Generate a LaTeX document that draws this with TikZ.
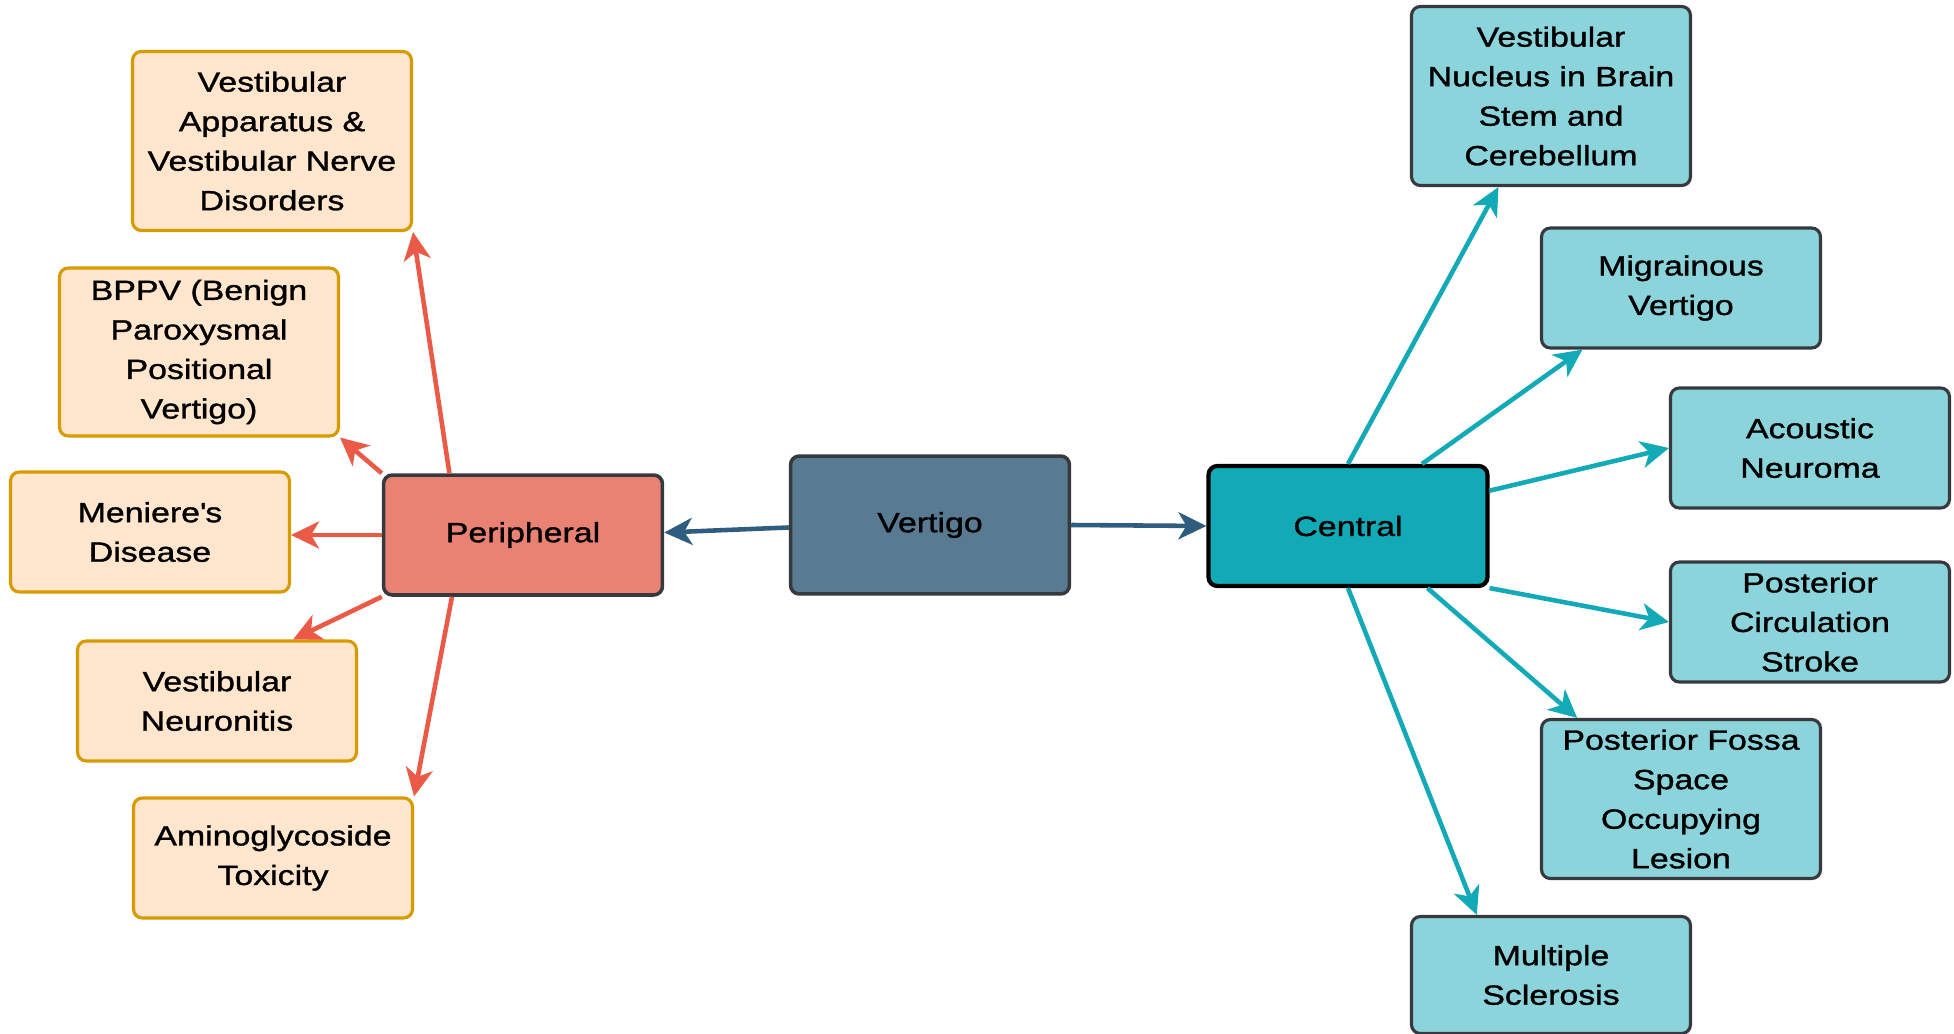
\documentclass[tikz,border=0pt]{standalone}
\usepackage{fontspec}
\setmainfont{Liberation Sans}[FakeStretch=1.22, FakeBold=1.2]
\usetikzlibrary{arrows.meta}

\definecolor{leafFill}{HTML}{FFE6CC}
\definecolor{leafLine}{HTML}{D79B00}
\definecolor{periFill}{HTML}{EA8274}
\definecolor{vertFill}{HTML}{587A92}
\definecolor{centFill}{HTML}{13AAB7}
\definecolor{cleafFill}{HTML}{8CD4DB}
\definecolor{darkLine}{HTML}{36393D}
\definecolor{redArr}{HTML}{EA5A47}
\definecolor{blueArr}{HTML}{2F5D7F}

\begin{document}
\begin{tikzpicture}[x=0.02cm, y=-0.02cm,
        box/.style={rectangle, rounded corners=5pt, align=center,
                    minimum width=5.58cm, minimum height=2.4cm, inner sep=2pt,
                    font=\fontsize{15.8}{22.5}\selectfont},
        lleaf/.style={box, draw=leafLine, line width=1.8pt, fill=leafFill},
        rleaf/.style={box, draw=darkLine, line width=1.8pt, fill=cleafFill},
        hub/.style={box, draw=darkLine, line width=2pt},
        arr/.style={-{Stealth[length=0.56cm,width=0.54cm,inset=0.16cm]}, line width=2.6pt},
        rarr/.style={arr, redArr},
        barr/.style={arr, blueArr},
        tarr/.style={arr, centFill}]
      \useasboundingbox (0,0) rectangle (1954,1034);
      % middle row
      \node[hub, fill=vertFill, minimum height=2.76cm] (vt) at (930,525) {Vertigo};
      \node[hub, fill=periFill] (pe) at (523,535) {Peripheral};
      \node[hub, fill=centFill, draw=black, line width=2.4pt] (ce) at (1348,526) {Central};
      % peripheral causes
      \node[lleaf, minimum height=3.58cm] (va) at (272,141) {Vestibular\\Apparatus \&\\Vestibular Nerve\\Disorders};
      \node[lleaf, minimum height=3.36cm] (bp) at (199,352) {BPPV (Benign\\Paroxysmal\\Positional\\Vertigo)};
      \node[lleaf] (me) at (150,532) {Meniere\textquotesingle s\\Disease};
      \node[lleaf] (ne) at (217,701) {Vestibular\\Neuronitis};
      \node[lleaf] (am) at (273,858) {Aminoglycoside\\Toxicity};
      % central causes
      \node[rleaf, minimum height=3.58cm] (vn) at (1551,96) {Vestibular\\Nucleus in Brain\\Stem and\\Cerebellum};
      \node[rleaf] (mi) at (1681,288) {Migrainous\\Vertigo};
      \node[rleaf] (ac) at (1810,448) {Acoustic\\Neuroma};
      \node[rleaf] (pc) at (1810,622) {Posterior\\Circulation\\Stroke};
      \node[rleaf, minimum height=3.18cm] (pf) at (1681,799) {Posterior Fossa\\Space\\Occupying\\Lesion};
      \node[rleaf, minimum height=2.34cm] (ms) at (1551,975) {Multiple\\Sclerosis};
      % connectors
      \draw[barr] (vt.181) -- (pe.1);
      \draw[barr] (vt.east) -- (ce.west);
      \draw[rarr] (pe.140) -- (va.south east);
      \draw[rarr] (pe.north west) -- (bp.south east);
      \draw[rarr] (pe.west) -- (pe.west -| me.east);
      \draw[rarr] (pe.south west) -- (ne.39);
      \draw[rarr] (pe.-139) -- (am.north east);
      \draw[tarr] (ce.north) -- (vn.-120);
      \draw[tarr] (ce.40) -- (mi.-148);
      \draw[tarr] (ce.14) -- (ac.west);
      \draw[tarr] (ce.south east) -- (pc.west);
      \draw[tarr] (ce.-38) -- (pf.142);
      \draw[tarr] (ce.south) -- (ms.141);
\end{tikzpicture}
\end{document}
